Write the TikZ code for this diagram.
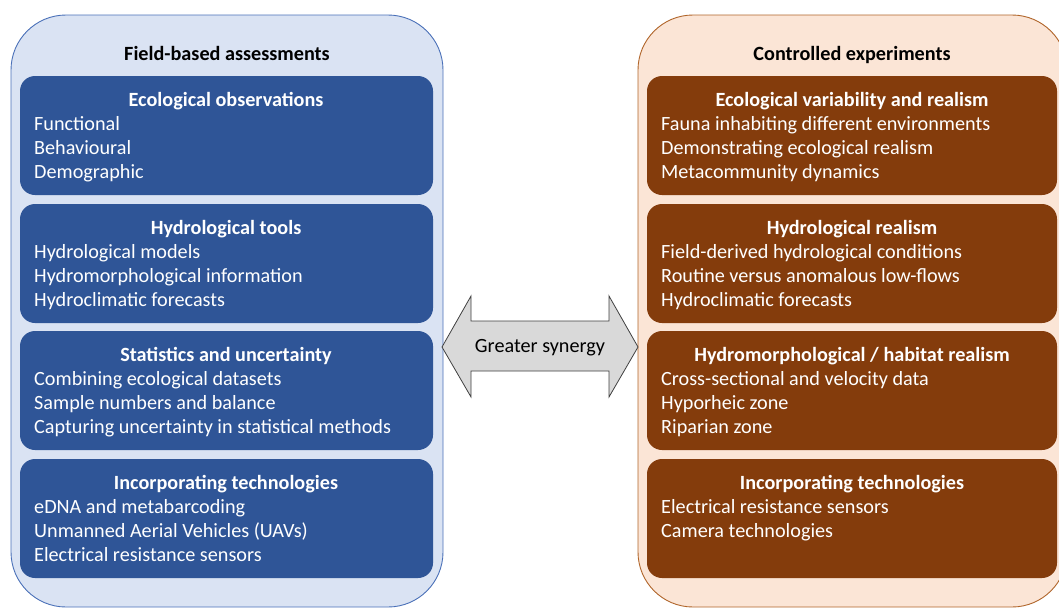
\documentclass[tikz,border=0pt]{standalone}
\usepackage{fontspec}
\setmainfont{Carlito}
\definecolor{fieldfill}{HTML}{DAE3F3}
\definecolor{fielddraw}{HTML}{4A70B8}
\definecolor{fieldbox}{HTML}{2F5597}
\definecolor{labfill}{HTML}{FBE5D6}
\definecolor{labdraw}{HTML}{B0652A}
\definecolor{labbox}{HTML}{843C0C}
\definecolor{arrowfill}{HTML}{D9D9D9}
\definecolor{arrowdraw}{HTML}{404040}
\begin{document}
\begin{tikzpicture}[x=1pt,y=-1pt,
  txt/.style={font=\fontsize{20.2}{24}\selectfont, inner sep=0pt},
  paneltitle/.style={txt, font=\fontsize{20.2}{24}\selectfont\bfseries, anchor=base, text=black},
  boxhead/.style={txt, font=\fontsize{20.2}{24}\selectfont\bfseries, anchor=base, text=white},
  boxitem/.style={txt, anchor=base west, text=white},
  fieldbg/.style={fill=fieldfill, draw=fielddraw, line width=0.9pt, rounded corners=55pt},
  labbg/.style={fill=labfill, draw=labdraw, line width=0.9pt, rounded corners=55pt},
  fieldcard/.style={fill=fieldbox, rounded corners=15pt},
  labcard/.style={fill=labbox, rounded corners=15pt},
]
\useasboundingbox (0,0) rectangle (1059,608);

% background panels
\draw[fieldbg] (11,15) rectangle (443,607);
\draw[labbg] (638,15) rectangle (1067,607);

% cards
\foreach \top in {76,204,331,459}{
  \path[fieldcard] (20,\top) rectangle (433,\top+119);
  \path[labcard] (647,\top) rectangle (1057,\top+119);
}

\begin{scope}[yshift=-1.5pt]
\node[paneltitle] (fieldtitle) at (227,59) {Field-based assessments};
\node[paneltitle] (labtitle) at (852,59) {Controlled experiments};

% left card texts
\node[boxhead] (f1h) at (226,105) {Ecological observations};
\node[boxitem] (f1a) at (34,129) {Functional};
\node[boxitem] (f1b) at (34,153) {Behavioural};
\node[boxitem] (f1c) at (34,177) {Demographic};

\node[boxhead] (f2h) at (226,233) {Hydrological tools};
\node[boxitem] (f2a) at (34,257) {Hydrological models};
\node[boxitem] (f2b) at (34,281) {Hydromorphological information};
\node[boxitem] (f2c) at (34,305) {Hydroclimatic forecasts};

\node[boxhead] (f3h) at (226,360) {Statistics and uncertainty};
\node[boxitem] (f3a) at (34,384) {Combining ecological datasets};
\node[boxitem] (f3b) at (34,408) {Sample numbers and balance};
\node[boxitem] (f3c) at (34,432) {Capturing uncertainty in statistical methods};

\node[boxhead] (f4h) at (226,488) {Incorporating technologies};
\node[boxitem] (f4a) at (34,512) {eDNA and metabarcoding};
\node[boxitem] (f4b) at (34,536) {Unmanned Aerial Vehicles (UAVs)};
\node[boxitem] (f4c) at (34,560) {Electrical resistance sensors};

% right card texts
\node[boxhead] (c1h) at (852,105) {Ecological variability and realism};
\node[boxitem] (c1a) at (661,129) {Fauna inhabiting different environments};
\node[boxitem] (c1b) at (661,153) {Demonstrating ecological realism};
\node[boxitem] (c1c) at (661,177) {Metacommunity dynamics};

\node[boxhead] (c2h) at (852,233) {Hydrological realism};
\node[boxitem] (c2a) at (661,257) {Field-derived hydrological conditions};
\node[boxitem] (c2b) at (661,281) {Routine versus anomalous low-flows};
\node[boxitem] (c2c) at (661,305) {Hydroclimatic forecasts};

\node[boxhead] (c3h) at (852,360) {Hydromorphological / habitat realism};
\node[boxitem] (c3a) at (661,384) {Cross-sectional and velocity data};
\node[boxitem] (c3b) at (661,408) {Hyporheic zone};
\node[boxitem] (c3c) at (661,432) {Riparian zone};

\node[boxhead] (c4h) at (852,488) {Incorporating technologies};
\node[boxitem] (c4a) at (661,512) {Electrical resistance sensors};
\node[boxitem] (c4b) at (661,536) {Camera technologies};
\end{scope}

% double-headed arrow between the panels
\draw[fill=arrowfill, draw=arrowdraw, line width=0.8pt, line join=miter]
  (442,347) -- (471,296) -- (471,321) -- (609,321) -- (609,296) -- (638,347)
  -- (609,397) -- (609,371) -- (471,371) -- (471,397) -- cycle;
\node[txt, text=black] (syn) at (540,348) {Greater synergy};
\end{tikzpicture}
\end{document}
